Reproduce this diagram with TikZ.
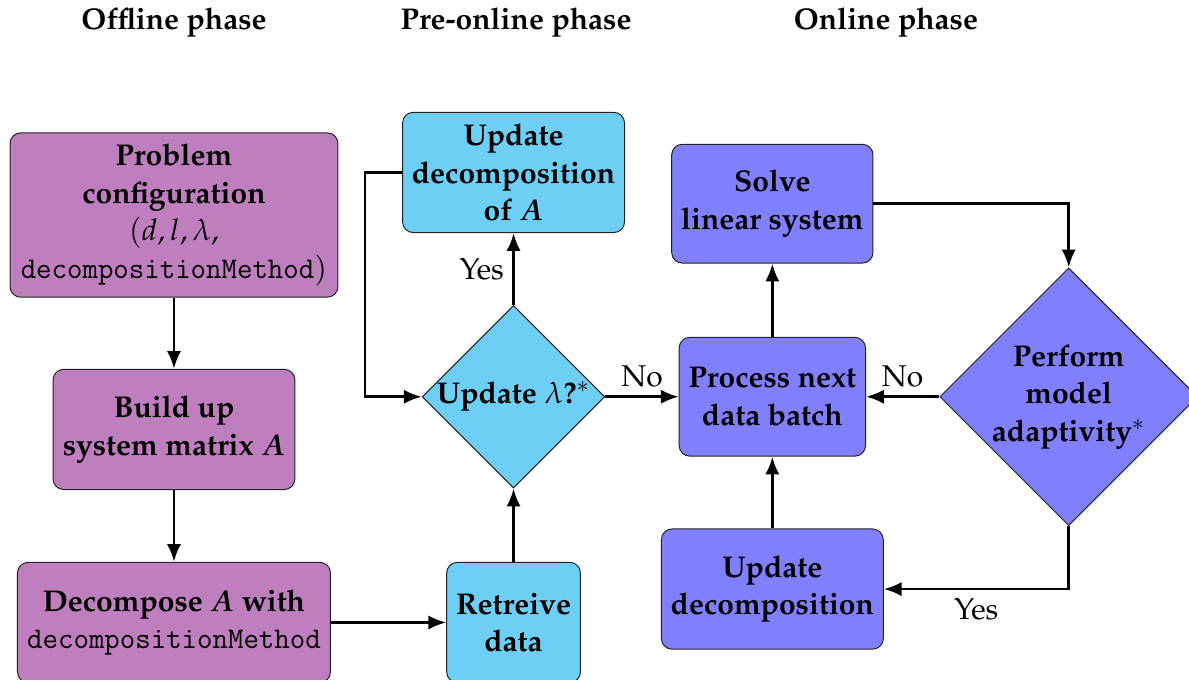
\documentclass[tikz,border=0pt]{standalone}
\usepackage[T1]{fontenc}
\usepackage{mathpazo}
\usepackage{xcolor}
\usepackage{tikz}
\usetikzlibrary{shapes.geometric,arrows.meta,positioning,calc}
\definecolor{offViolet}{HTML}{BF7FBF}
\definecolor{preCyan}{HTML}{6DCFF6}
\definecolor{onBlue}{HTML}{8080FF}
\definecolor{edgeGray}{HTML}{222222}
% method name in Latin Modern Mono
\newcommand{\methname}{{\fontencoding{TU}\fontfamily{lmtt}\fontseries{m}\selectfont decompositionMethod}}

\begin{document}
\begin{tikzpicture}[
    box/.style={rectangle, draw=edgeGray, rounded corners=1.5mm, align=center, minimum height=1.69cm, inner sep=0pt, font=\fontsize{12pt}{15pt}\selectfont\bfseries\boldmath},
    offbox/.style={box, fill=offViolet},
    prebox/.style={box, fill=preCyan},
    onbox/.style={box, fill=onBlue},
    decision/.style={diamond, draw=edgeGray, aspect=1, align=center, inner sep=0pt, font=\fontsize{12pt}{15pt}\selectfont\bfseries},
    predecision/.style={decision, fill=preCyan},
    ondecision/.style={decision, fill=onBlue},
    head/.style={font=\large\bfseries},
    lbl/.style={font=\large},
    line/.style={draw=black, -{Latex[length=2.5mm, width=2mm]}, line width=1.1pt}
]
\useasboundingbox (-2.446,-6.524) rectangle (14.27,3.023);

% Phase titles
\node[head] (offHead) at (0,2.71) {Offline phase};
\node[head] (preHead) at (4.81,2.71) {Pre-online phase};
\node[head] (onHead) at (10.01,2.71) {Online phase};

% Offline nodes
\node[offbox, minimum width=4.61cm, minimum height=2.31cm] (prob) {Problem\\configuration\\{\mdseries\unboldmath$(d,l,\lambda,$}\\\methname{\unboldmath$)$}};
\node[offbox, minimum width=3.40cm, below=1cm of prob] (build) {Build up\\system matrix $A$};
\node[offbox, minimum width=4.40cm, below=1.01cm of build] (decomp) {Decompose $A$ with\\\methname};

% Pre-online nodes
\node[prebox, minimum width=1.88cm, right=1.62cm of decomp] (retr) {Retreive\\data};
\node[predecision, minimum size=2.56cm, above=1.03cm of retr] (lam) {Update $\lambda$?$^*$};
\node[prebox, minimum width=3.12cm, above=1.01cm of lam] (updA) {Update\\decomposition\\of $A$};

% Online nodes
\node[onbox, minimum width=2.62cm, minimum height=1.67cm, right=1.03cm of lam] (proc) {Process next\\data batch};
\node[onbox, minimum width=2.83cm, minimum height=1.67cm, above=1.03cm of proc] (solve) {Solve\\linear system};
\node[onbox, minimum width=3.12cm, below=1.01cm of proc] (updD) {Update\\decomposition};
\node[ondecision, minimum size=3.6cm, right=1.03cm of proc] (adapt) {Perform\\model\\adaptivity$^*$};

% Connections
\draw[line] (prob) -- (build);
\draw[line] (build) -- (decomp);
\draw[line] (decomp) -- (retr);
\draw[line] (retr) -- (lam);
\draw[line] (lam) -- node[lbl, left] {Yes} (updA);
\draw[line] (updA.west) -- ++(-0.52,0) |- (lam.west);
\draw[line] (lam) -- node[lbl, above] {No} (proc);
\draw[line] (proc) -- (solve);
\draw[line] (solve.east) -| (adapt.north);
\draw[line] (adapt) -- node[lbl, above] {No} (proc);
\draw[line] (adapt.south) |- node[lbl, below, pos=0.75] {Yes} (updD.east);
\draw[line] (updD) -- (proc);

\end{tikzpicture}
\end{document}
